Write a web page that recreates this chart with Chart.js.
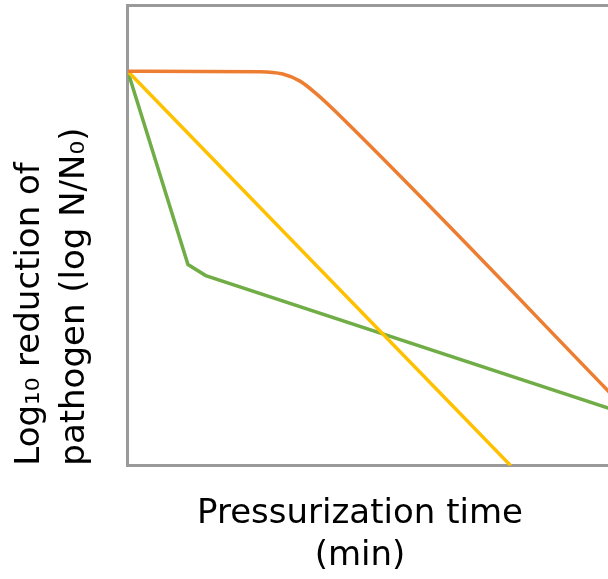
<!DOCTYPE html>
<html lang="en">

<head>
    <meta charset="UTF-8">
    <title>Pressurization time vs log reduction</title>
    <script src="https://cdn.jsdelivr.net/npm/chart.js"></script>
    <style>
        * {
            margin: 0;
            padding: 0;
            box-sizing: border-box;
        }

        body {
            background: #fff;
            width: 608px;
            height: 579px;
            overflow: hidden;
        }

        canvas {
            display: block;
        }
    </style>
</head>

<body>
    <canvas id="killChart" width="720" height="579"></canvas>

    <script>
        // values (time in arbitrary min units, log N/N0)
        const orangeTime = [0, 2.68, 3.14, 3.49, 3.83, 4.2, 9.73, 11.19];
        const orangeLog = [0, -0.01, -0.07, -0.25, -0.58, -1.01, -8.1, -10];

        const yellowTime = [0, 7.76];
        const yellowLog = [0, -10];

        const greenTime = [0, 1.22, 1.58, 12];
        const greenLog = [0, -4.9, -5.18, -9.47];

        const xTitle = ['Pressurization time', '(min)'];
        const yTitle = ['Log\u2081\u2080 reduction of', 'pathogen (log N/N\u2080)'];

        const toPoints = (xs, ys) => xs.map((x, i) => ({ x: x, y: ys[i] }));

        Chart.defaults.font.family = "'DejaVu Sans', sans-serif";
        Chart.defaults.color = '#000';

        const frameColor = '#9a9a9a';

        const ctx = document.getElementById('killChart').getContext('2d');
        new Chart(ctx, {
            type: 'line',
            data: {
                datasets: [{
                    label: 'Shoulder',
                    data: toPoints(orangeTime, orangeLog),
                    borderColor: '#ED7D31',
                    borderWidth: 3.5,
                    pointRadius: 0,
                    cubicInterpolationMode: 'monotone'
                }, {
                    label: 'Linear',
                    data: toPoints(yellowTime, yellowLog),
                    borderColor: '#FFC000',
                    borderWidth: 3.5,
                    pointRadius: 0
                }, {
                    label: 'Tailing',
                    data: toPoints(greenTime, greenLog),
                    borderColor: '#70AD47',
                    borderWidth: 3.5,
                    pointRadius: 0
                }]
            },
            options: {
                responsive: false,
                animation: false,
                layout: {
                    padding: { top: 5, left: 0, right: 0, bottom: 2 }
                },
                plugins: {
                    legend: { display: false },
                    tooltip: { enabled: false },
                    title: {
                        display: true,
                        position: 'bottom',
                        text: xTitle,
                        font: { size: 34, weight: 'normal', lineHeight: 1.24 },
                        color: '#000',
                        padding: { top: 27, bottom: 0 }
                    }
                },
                scales: {
                    x: {
                        type: 'linear',
                        min: 0,
                        max: 12,
                        ticks: { display: false },
                        grid: { display: false, drawTicks: false },
                        border: { display: true, color: frameColor, width: 3 }
                    },
                    x2: {
                        type: 'linear',
                        position: 'top',
                        min: 0,
                        max: 12,
                        ticks: { display: false },
                        grid: { display: false, drawTicks: false },
                        border: { display: true, color: frameColor, width: 3 }
                    },
                    y: {
                        min: -10,
                        max: 1.68,
                        ticks: { display: false },
                        grid: { display: false, drawTicks: false },
                        border: { display: true, color: frameColor, width: 3 },
                        title: {
                            display: true,
                            text: yTitle,
                            align: 'start',
                            color: '#000',
                            font: { size: 34, weight: 'normal', lineHeight: 1.32 },
                            padding: { top: 8, bottom: 30 }
                        }
                    }
                }
            }
        });
    </script>
</body>

</html>
